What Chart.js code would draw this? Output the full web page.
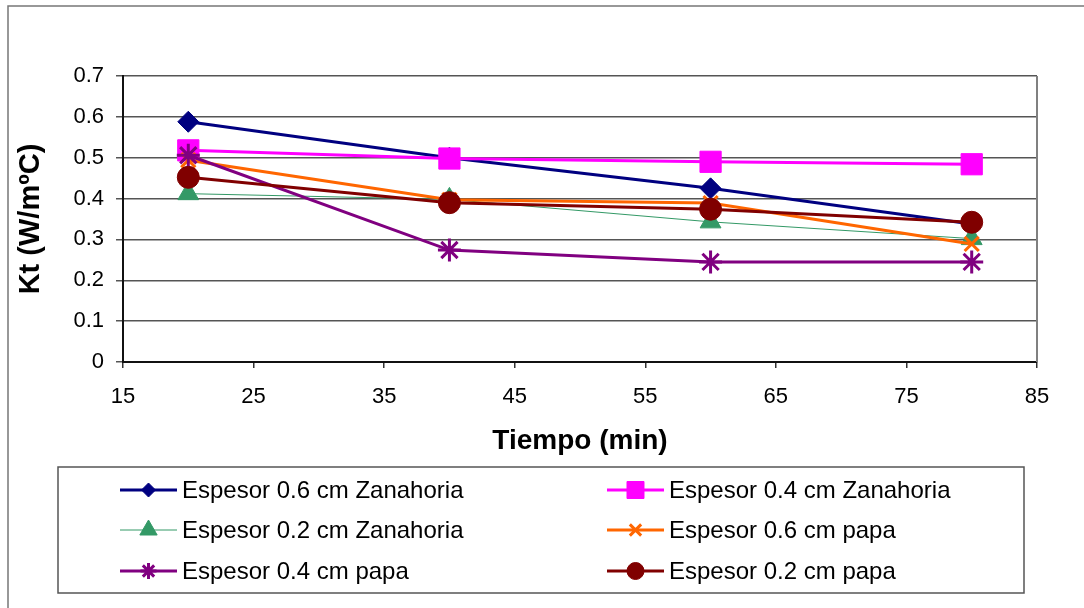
<!DOCTYPE html>
<html>
<head>
<meta charset="utf-8">
<script src="https://cdn.jsdelivr.net/npm/chart.js@4/dist/chart.umd.min.js"></script>
<style>
  html, body { margin: 0; padding: 0; background: #fff; }
  #wrap { width: 1084px; height: 608px; }
</style>
</head>
<body>
<div id="wrap"><canvas id="ktChart" width="1084" height="608"></canvas></div>
<script>
// Kt vs tiempo for carrot and potato slices
const tiempo = [20, 40, 60, 80];
const zanahoria06 = [0.588, 0.500, 0.425, 0.338];
const zanahoria04 = [0.518, 0.498, 0.490, 0.484];
const zanahoria02 = [0.412, 0.398, 0.343, 0.302];
const papa06 = [0.494, 0.397, 0.389, 0.289];
const papa04 = [0.506, 0.274, 0.245, 0.245];
const papa02 = [0.452, 0.390, 0.374, 0.342];

const seriesNames = [
    'Espesor 0.6 cm Zanahoria',
    'Espesor 0.4 cm Zanahoria',
    'Espesor 0.2 cm Zanahoria',
    'Espesor 0.6 cm papa',
    'Espesor 0.4 cm papa',
    'Espesor 0.2 cm papa'
];
const xTicks = [15, 25, 35, 45, 55, 65, 75, 85];
const yTicks = [0, 0.1, 0.2, 0.3, 0.4, 0.5, 0.6, 0.7];

const FONT = '"Liberation Sans", Arial, sans-serif';

function pts(values) {
    return values.map((v, i) => ({ x: tiempo[i], y: v }));
}

function serie(idx, values, color, style, radius, width, legendRadius) {
    return {
        label: seriesNames[idx],
        data: pts(values),
        borderColor: color,
        backgroundColor: color,
        borderWidth: width,
        pointStyle: style,
        pointRadius: radius,
        pointBorderWidth: (style === 'crossRot' || style === 'star') ? 3 : 1,
        pointBorderColor: color,
        pointBackgroundColor: color,
        legendRadius: legendRadius,
        tension: 0,
        order: 5 - idx
    };
}

const datasets = [
    serie(0, zanahoria06, '#000080', 'rectRot', 10.5, 3, 7),
    serie(1, zanahoria04, '#ff00ff', 'rect', 15, 3, 12),
    serie(2, zanahoria02, '#339966', 'triangle', 12, 1, 10),
    serie(3, papa06, '#ff6600', 'crossRot', 10, 3, 8),
    serie(4, papa04, '#800080', 'star', 11.5, 3, 8),
    serie(5, papa02, '#800000', 'circle', 11, 3, 8.5)
];

// page background, outer frame, right edge of the plot and the boxed legend
const decor = {
    id: 'decor',
    beforeDraw(chart) {
        const ctx = chart.ctx;
        ctx.save();
        ctx.fillStyle = '#fff';
        ctx.fillRect(0, 0, chart.width, chart.height);
        ctx.strokeStyle = '#777';
        ctx.lineWidth = 1.5;
        ctx.beginPath();
        ctx.moveTo(8, chart.height);
        ctx.lineTo(8, 6);
        ctx.lineTo(chart.width, 6);
        ctx.stroke();
        ctx.restore();
    },
    afterDraw(chart) {
        const ctx = chart.ctx;
        const a = chart.chartArea;
        ctx.save();
        ctx.strokeStyle = '#808080';
        ctx.lineWidth = 2;
        ctx.beginPath();
        ctx.moveTo(a.right, a.top);
        ctx.lineTo(a.right, a.bottom);
        ctx.stroke();

        // legend box
        ctx.strokeStyle = '#555';
        ctx.lineWidth = 1.5;
        ctx.strokeRect(58, 467, 966, 126);

        const colX = [120, 607];
        const rowY = [490, 530, 571];
        ctx.font = '24px ' + FONT;
        ctx.textBaseline = 'middle';
        ctx.textAlign = 'left';
        chart.data.datasets.forEach((ds, i) => {
            const x0 = colX[i % 2];
            const y = rowY[Math.floor(i / 2)];
            ctx.strokeStyle = ds.borderColor;
            ctx.lineWidth = ds.borderWidth;
            ctx.beginPath();
            ctx.moveTo(x0, y);
            ctx.lineTo(x0 + 57, y);
            ctx.stroke();
            ctx.fillStyle = ds.pointBackgroundColor;
            ctx.strokeStyle = ds.pointBorderColor;
            ctx.lineWidth = ds.pointBorderWidth;
            Chart.helpers.drawPoint(ctx, {
                pointStyle: ds.pointStyle,
                radius: ds.legendRadius,
                borderWidth: ds.pointBorderWidth,
                rotation: 0
            }, x0 + 28.5, y);
            ctx.fillStyle = '#000';
            ctx.fillText(ds.label, x0 + 62, y + 1);
        });
        ctx.restore();
    }
};

new Chart(document.getElementById('ktChart'), {
    type: 'line',
    data: { datasets: datasets },
    options: {
        responsive: false,
        animation: false,
        layout: { padding: { top: 76, right: 47, bottom: 142, left: 0 } },
        plugins: {
            legend: { display: false },
            tooltip: { enabled: false }
        },
        scales: {
            x: {
                type: 'linear',
                min: xTicks[0],
                max: xTicks[xTicks.length - 1],
                afterBuildTicks: s => { s.ticks = xTicks.map(v => ({ value: v })); },
                afterFit: s => { s.height = 104; },
                grid: { drawOnChartArea: false, color: '#333', tickLength: 6, lineWidth: 1.5 },
                border: { color: '#111', width: 2 },
                ticks: {
                    color: '#000',
                    padding: 16,
                    font: { family: FONT, size: 22 },
                    callback: v => String(v)
                },
                title: {
                    display: true,
                    text: 'Tiempo (min)',
                    color: '#000',
                    font: { family: FONT, size: 28, weight: 'bold' },
                    padding: { top: 0, bottom: 8 }
                }
            },
            y: {
                min: yTicks[0],
                max: yTicks[yTicks.length - 1],
                afterBuildTicks: s => { s.ticks = yTicks.map(v => ({ value: v })); },
                afterFit: s => { s.width = 123; },
                grid: { color: '#555', lineWidth: 1.5, tickLength: 7 },
                border: { color: '#111', width: 2 },
                ticks: {
                    color: '#000',
                    padding: 12,
                    font: { family: FONT, size: 22 },
                    callback: v => String(Math.round(v * 10) / 10)
                },
                title: {
                    display: true,
                    text: 'Kt (W/mºC)',
                    color: '#000',
                    font: { family: FONT, size: 29, weight: 'bold' },
                    padding: { top: 14, bottom: 0 }
                }
            }
        }
    },
    plugins: [decor]
});
</script>
</body>
</html>
